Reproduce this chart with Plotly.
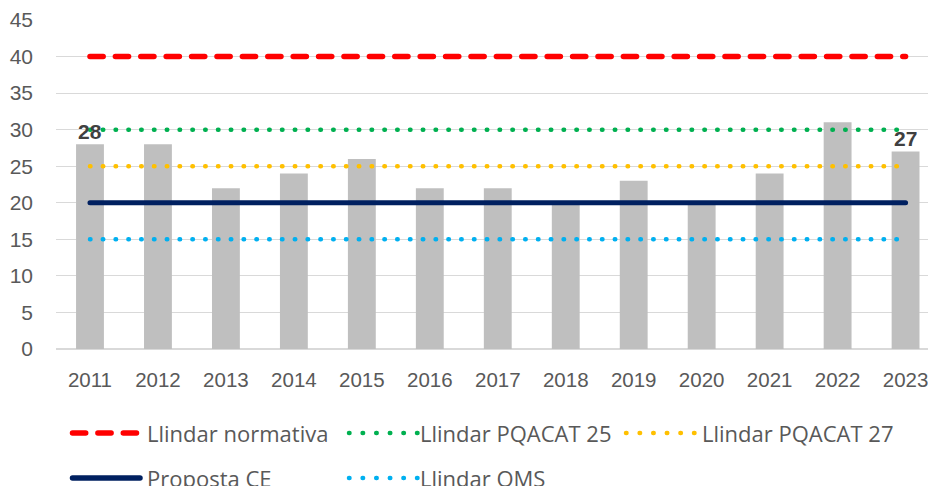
import plotly.graph_objects as go

# ---- data ----
years = ["2011", "2012", "2013", "2014", "2015", "2016", "2017",
         "2018", "2019", "2020", "2021", "2022", "2023"]
valors = [28, 28, 22, 24, 26, 22, 22, 20, 23, 20, 24, 31, 27]
llindar_normativa = [40, 40, 40, 40, 40, 40, 40, 40, 40, 40, 40, 40, 40]
llindar_pqacat25 = [30, 30, 30, 30, 30, 30, 30, 30, 30, 30, 30, 30, 30]
llindar_pqacat27 = [25, 25, 25, 25, 25, 25, 25, 25, 25, 25, 25, 25, 25]
proposta_ce = [20, 20, 20, 20, 20, 20, 20, 20, 20, 20, 20, 20, 20]
llindar_oms = [15, 15, 15, 15, 15, 15, 15, 15, 15, 15, 15, 15, 15]
label_years = ["2011", "2023"]
y_ticks = [0, 5, 10, 15, 20, 25, 30, 35, 40, 45]

# ---- styles ----
GRAY_TXT = "#595959"
YTICK_FONT = dict(family="Liberation Sans, Arial, sans-serif", size=21, color=GRAY_TXT)
XTICK_FONT = dict(family="Liberation Sans, Arial, sans-serif", size=20.5, color=GRAY_TXT)
LEG_FONT = dict(family="Open Sans, Liberation Sans, sans-serif", size=22, color=GRAY_TXT)

DOT = "0.5px,12.3px"
series = [
    ("Llindar normativa", llindar_normativa, "#FF0000", 5.5, "13.2px,12.2px"),
    ("Llindar PQACAT 25", llindar_pqacat25, "#00B050", 4.5, DOT),
    ("Llindar PQACAT 27", llindar_pqacat27, "#FFC000", 4.5, DOT),
    ("Proposta CE", proposta_ce, "#002060", 5, "solid"),
    ("Llindar OMS", llindar_oms, "#00B0F0", 4.5, DOT),
]

fig = go.Figure()
fig.add_trace(go.Bar(x=years, y=valors, marker=dict(color="#BFBFBF", line=dict(width=0)),
                     showlegend=False, hoverinfo="x+y"))
for name, ys, color, w, dash in series:
    fig.add_trace(go.Scatter(x=years, y=ys, mode="lines", name=name,
                             line=dict(color=color, width=w, dash=dash),
                             showlegend=False))

# data labels
for yr in label_years:
    i = years.index(yr)
    v = valors[i]
    fig.add_annotation(x=i, y=v, xref="x", yref="y", text=str(v), showarrow=False,
                       yanchor="middle", yshift=13,
                       font=dict(family="Liberation Sans, Arial, sans-serif", size=21,
                                 color="#404040", weight="bold"))

# ---- manual legend (pixel -> paper conversion) ----
L, T, W, H = 56, 20, 872, 329
def px(x):
    return (x - L) / W
def py(y):
    return (T + H - y) / H

LDOT = "0.5px,13.1px"
legend_items = [
    # name, color, width, dash, x0, x1, text_x, y
    ("Llindar normativa", "#FF0000", 5.5, "13.2px,12.2px", 72.5, 137.5, 145, 433),
    ("Llindar PQACAT 25", "#00B050", 4.5, LDOT, 349, 418, 418, 433),
    ("Llindar PQACAT 27", "#FFC000", 4.5, LDOT, 626, 695, 700, 433),
    ("Proposta CE", "#002060", 5.5, "solid", 72.5, 140, 145, 478),
    ("Llindar OMS", "#00B0F0", 4.5, LDOT, 349, 418, 418, 478),
]
for name, color, w, dash, x0, x1, tx, y in legend_items:
    fig.add_shape(type="line", xref="paper", yref="paper",
                  x0=px(x0), x1=px(x1), y0=py(y), y1=py(y),
                  line=dict(color=color, width=w, dash=dash))
    fig.add_annotation(xref="paper", yref="paper", x=px(tx), y=py(y), text=name,
                       showarrow=False, xanchor="left", yanchor="middle",
                       font=LEG_FONT)

fig.update_layout(
    width=928, height=486, autosize=False,
    margin=dict(l=L, r=0, t=T, b=486 - T - H, pad=0),
    plot_bgcolor="white", paper_bgcolor="white",
    bargap=0.59,
    showlegend=False,
    xaxis=dict(type="category", range=[-0.5, 12.33], showgrid=False, zeroline=False,
               showline=False, ticks="", tickfont=XTICK_FONT, ticklabelstandoff=16),
    yaxis=dict(range=[0, 45], tickvals=y_ticks, showgrid=True, gridcolor="#D9D9D9",
               gridwidth=1.3, zeroline=True, zerolinecolor="#D9D9D9", zerolinewidth=1.6,
               showline=False, ticks="", tickfont=YTICK_FONT, ticklabelstandoff=22),
)

post = ("var s=document.createElement('style');"
        "s.textContent='body{margin:0;} .scatterlayer path.js-line, .shapelayer path{stroke-linecap:round !important;}';"
        "document.head.appendChild(s);")
fig.write_html("out.html", post_script=post, config={"displayModeBar": False})
